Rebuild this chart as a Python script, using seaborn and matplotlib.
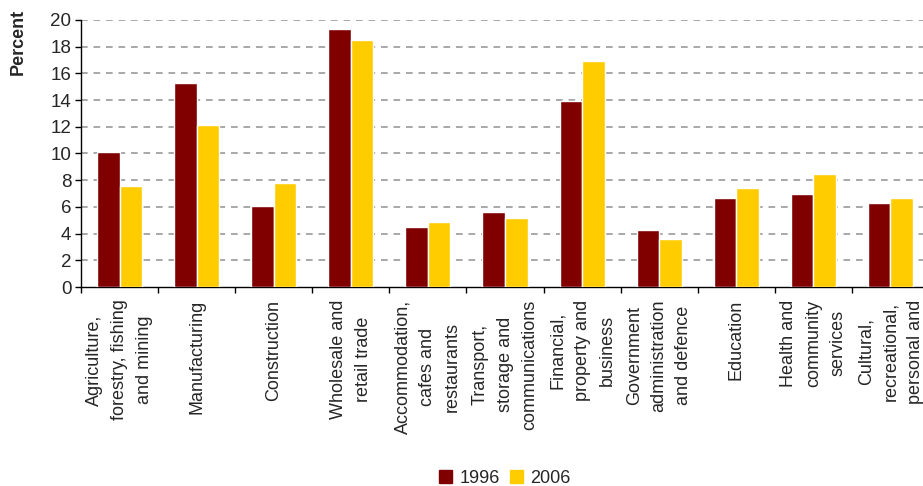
import matplotlib
matplotlib.use('Agg')
import matplotlib.pyplot as plt
from matplotlib.patches import Patch
import pandas as pd
import seaborn as sns

# 산업별 취업자 비율 (1996 vs 2006)
categories = ['Agriculture,\nforestry, fishing\nand mining', 'Manufacturing', 'Construction',
              'Wholesale and\nretail trade', 'Accommodation,\ncafes and\nrestaurants',
              'Transport,\nstorage and\ncommunications', 'Financial,\nproperty and\nbusiness',
              'Government\nadministration\nand defence', 'Education',
              'Health and\ncommunity\nservices', 'Cultural,\nrecreational,\npersonal and']
years = ['1996', '2006']
val_1996 = [10.1, 15.3, 6.1, 19.3, 4.5, 5.6, 13.9, 4.3, 6.7, 7.0, 6.3]
val_2006 = [7.6, 12.1, 7.8, 18.5, 4.9, 5.2, 16.9, 3.6, 7.4, 8.5, 6.7]
colors = ['#800000', '#FFCC00']

df = pd.DataFrame({'category': categories * 2,
                   'value': val_1996 + val_2006,
                   'year': [years[0]] * len(categories) + [years[1]] * len(categories)})

sns.set_style('white')
plt.rcParams['font.family'] = ['Liberation Sans', 'DejaVu Sans']

fig = plt.figure(figsize=(9.23, 4.86), dpi=100)
ax = fig.add_axes([81/923, 1-287/486, 848/923, 267/486])

sns.barplot(data=df, x='category', y='value', hue='year', palette=colors,
            width=0.585, saturation=1, gap=0, ax=ax, legend=False, zorder=3)

ax.set_ylim(0, 20)
ax.set_xlim(-0.5, 10.5)
ax.set_yticks(range(0, 21, 2))
ax.tick_params(axis='y', labelsize=13.5, length=4, width=1, color='black', pad=3, left=True)
ax.set_xticks(range(len(categories)))
ax.set_xticklabels(categories, rotation=90, ha='center', va='top', fontsize=13,
                   linespacing=1.6, multialignment='center')
ax.tick_params(axis='x', length=0, pad=9)
ax.set_xticks([i - 0.5 for i in range(len(categories) + 1)], minor=True)
ax.tick_params(axis='x', which='minor', length=4, width=1, color='black', bottom=True)

# 점선 격자
for yv in range(2, 21, 2):
    ax.axhline(yv, color='#999999', lw=1.2, ls=(0, (4, 3.5)), zorder=1)

for s in ['top', 'right']:
    ax.spines[s].set_visible(False)
for s in ['left', 'bottom']:
    ax.spines[s].set_color('black')
    ax.spines[s].set_linewidth(1)

ax.set_xlabel('')
ax.set_ylabel('')
fig.text(18/923, 1-42/486, 'Percent', rotation=90, fontsize=13, fontweight='bold',
         ha='center', va='center')

handles = [Patch(color=c, label=y) for c, y in zip(colors, years)]
fig.legend(handles=handles, loc='center', bbox_to_anchor=(505/923, 1-478/486), ncol=2,
           frameon=False, fontsize=13, handlelength=0.7, handleheight=0.7,
           handletextpad=0.4, columnspacing=0.6, borderpad=0)

plt.savefig('out.png', dpi=100)
